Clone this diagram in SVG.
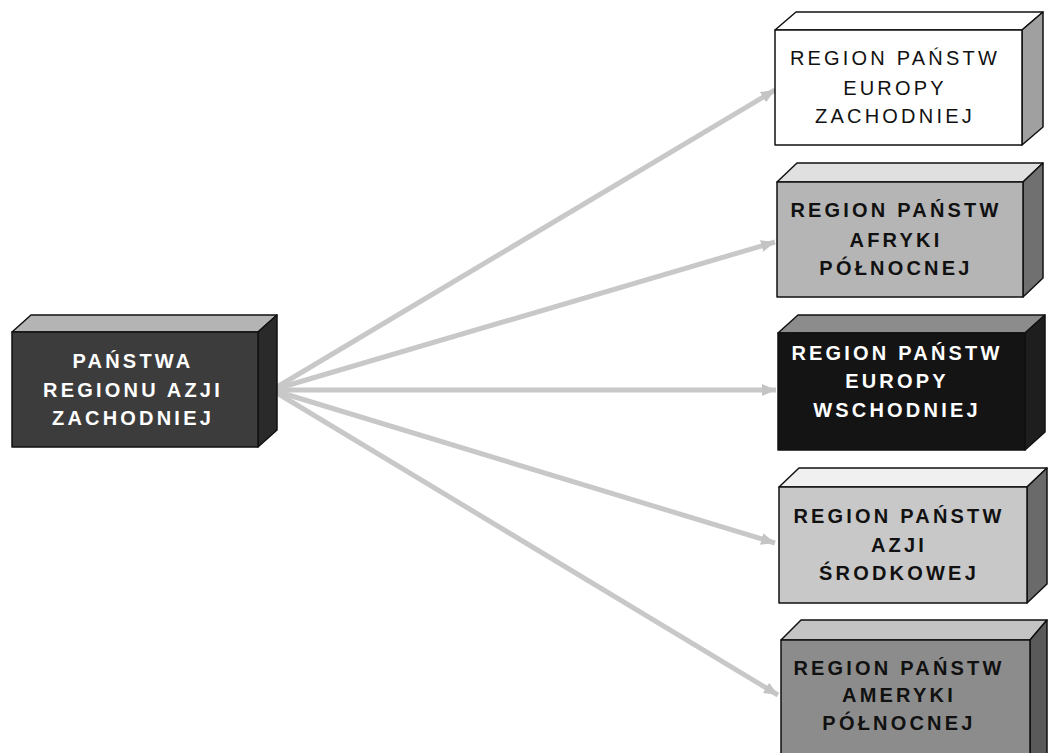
<svg xmlns="http://www.w3.org/2000/svg" width="1051" height="753" viewBox="0 0 1051 753">
<style>
.edge{stroke:#c8c8c8;stroke-width:5;fill:none;stroke-linecap:butt}
.face{stroke:#111;stroke-width:1.5;stroke-linejoin:round}
.t{font-family:"Liberation Sans",Arial,sans-serif;font-size:20px;font-weight:bold;letter-spacing:3.2px;text-anchor:middle}
.tn{font-weight:normal}
.w{fill:#fff}
.k{fill:#111}
</style>
<defs>
<marker id="ah" markerUnits="userSpaceOnUse" markerWidth="14" markerHeight="12" refX="14" refY="6" orient="auto">
<path d="M0,0 L14,6 L0,12 z" fill="#c4c4c4"/>
</marker>
</defs>
<rect width="1051" height="753" fill="#fff"/>
<g id="connectors">
<line class="edge" x1="272" y1="390" x2="775" y2="90" marker-end="url(#ah)"/>
<line class="edge" x1="272" y1="390" x2="775" y2="242" marker-end="url(#ah)"/>
<line class="edge" x1="272" y1="390" x2="776" y2="390" marker-end="url(#ah)"/>
<line class="edge" x1="272" y1="390" x2="775" y2="543" marker-end="url(#ah)"/>
<line class="edge" x1="272" y1="390" x2="778" y2="695" marker-end="url(#ah)"/>
<path d="M255,390 L274,376 L271,390 L274,404 Z" fill="#c4c4c4"/>
</g>
<g id="node-left">
<path class="face" d="M12,332 L31,315 L277,315 L258,332 Z" fill="#b4b4b4"/>
<path class="face" d="M258,332 L277,315 L277,430 L258,447 Z" fill="#2a2a2a"/>
<rect class="face" x="12" y="332" width="246" height="115" fill="#3c3c3c"/>
<text class="t w" x="133" y="368">PAŃSTWA</text>
<text class="t w" x="133" y="397">REGIONU AZJI</text>
<text class="t w" x="133" y="425">ZACHODNIEJ</text>
</g>
<g id="node-europa-zach">
<path class="face" d="M775,30 L796,12 L1043,12 L1022,30 Z" fill="#fff"/>
<path class="face" d="M1022,30 L1043,12 L1043,127 L1022,145 Z" fill="#a0a0a0"/>
<rect class="face" x="775" y="30" width="247" height="115" fill="#fff"/>
<text class="t tn k" x="895" y="65">REGION PAŃSTW</text>
<text class="t tn k" x="895" y="95">EUROPY</text>
<text class="t tn k" x="895" y="123">ZACHODNIEJ</text>
</g>
<g id="node-afryka">
<path class="face" d="M777,182 L797,163 L1043,163 L1023,182 Z" fill="#e0e0e0"/>
<path class="face" d="M1023,182 L1043,163 L1043,278 L1023,297 Z" fill="#707070"/>
<rect class="face" x="777" y="182" width="246" height="115" fill="#b5b5b5"/>
<text class="t k" x="896" y="217">REGION PAŃSTW</text>
<text class="t k" x="896" y="247">AFRYKI</text>
<text class="t k" x="896" y="275">PÓŁNOCNEJ</text>
</g>
<g id="node-europa-wsch">
<path class="face" d="M778,333 L798,315 L1045,315 L1025,333 Z" fill="#8c8c8c"/>
<path class="face" d="M1025,333 L1045,315 L1045,432 L1025,450 Z" fill="#1e1e1e"/>
<rect class="face" x="778" y="333" width="247" height="117" fill="#141414"/>
<text class="t w" x="897" y="360">REGION PAŃSTW</text>
<text class="t w" x="897" y="388">EUROPY</text>
<text class="t w" x="897" y="417">WSCHODNIEJ</text>
</g>
<g id="node-azja-srodk">
<path class="face" d="M779,487 L799,468 L1047,468 L1027,487 Z" fill="#f0f0f0"/>
<path class="face" d="M1027,487 L1047,468 L1047,584 L1027,603 Z" fill="#6a6a6a"/>
<rect class="face" x="779" y="487" width="248" height="116" fill="#c8c8c8"/>
<text class="t k" x="899" y="523">REGION PAŃSTW</text>
<text class="t k" x="899" y="552">AZJI</text>
<text class="t k" x="899" y="580">ŚRODKOWEJ</text>
</g>
<g id="node-ameryka">
<path class="face" d="M781,640 L801,620 L1047,620 L1030,640 Z" fill="#c4c4c4"/>
<path class="face" d="M1030,640 L1047,620 L1047,760 L1030,760 Z" fill="#5a5a5a"/>
<rect class="face" x="781" y="640" width="249" height="120" fill="#8c8c8c"/>
<text class="t k" x="899" y="675">REGION PAŃSTW</text>
<text class="t k" x="899" y="702">AMERYKI</text>
<text class="t k" x="899" y="730">PÓŁNOCNEJ</text>
</g>
</svg>
